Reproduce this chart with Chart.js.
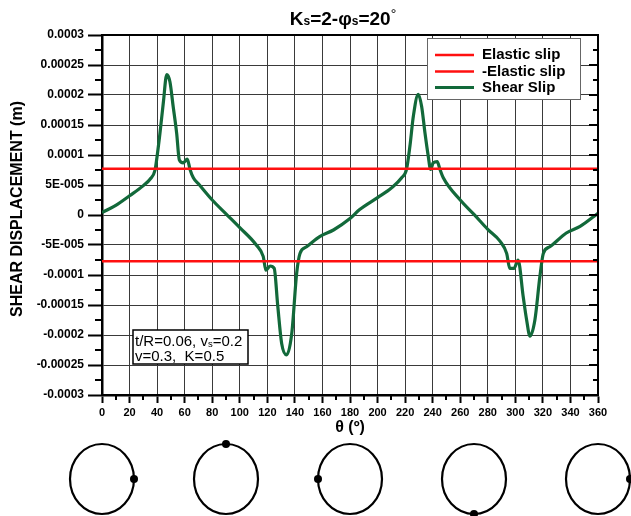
<!DOCTYPE html>
<html>
<head>
<meta charset="utf-8">
<script src="https://cdn.jsdelivr.net/npm/chart.js@4/dist/chart.umd.min.js"></script>
<style>
  html, body { margin: 0; padding: 0; background: #fff; }
  canvas { display: block; }
</style>
</head>
<body>
<canvas id="c" width="631" height="516"></canvas>
<script>
// Shear displacement along the liner circumference
const theta = [0, 10, 20, 30, 35, 38.5, 40, 42, 44.5, 47, 49.3, 51.7, 54.2, 56.1, 59, 61.9, 63.9, 66.3,
  70, 80, 90, 100, 112, 117, 119, 122, 125, 127.5, 130.4, 134, 137.7, 141.3, 143.7, 148.5, 158, 168,
  180, 187, 200, 210, 217.5, 221, 223.5, 226, 229.5, 232, 234.4, 236.8, 238.5, 240.4, 243.3, 245.3, 247.7,
  260, 270, 280, 289, 293.7, 296, 299, 302, 305.7, 308.2, 310.6, 314.2, 317.8, 320.3, 325, 337, 347, 360];
const shearSlip = [0.4e-5, 1.6e-5, 3.2e-5, 4.9e-5, 6.0e-5, 7.5e-5, 9.8e-5, 13.5e-5, 18.7e-5, 23.4e-5, 22.2e-5, 18.0e-5, 13.6e-5, 9.2e-5, 8.7e-5, 9.3e-5, 7.6e-5, 6.2e-5,
  5.2e-5, 2.5e-5, 0.2e-5, -2.1e-5, -5.0e-5, -6.9e-5, -9.2e-5, -8.5e-5, -8.9e-5, -15.0e-5, -21.4e-5, -23.3e-5, -19.8e-5, -9.7e-5, -6.4e-5, -5.3e-5, -3.6e-5, -2.5e-5,
  -0.6e-5, 0.9e-5, 2.9e-5, 4.5e-5, 6.2e-5, 7.6e-5, 11.5e-5, 16.5e-5, 20.1e-5, 18.1e-5, 13.7e-5, 9.8e-5, 7.6e-5, 8.7e-5, 8.9e-5, 7.6e-5, 6.2e-5,
  2.5e-5, 0.1e-5, -2.4e-5, -4.4e-5, -6.4e-5, -8.9e-5, -8.9e-5, -7.5e-5, -13.6e-5, -17.5e-5, -20.2e-5, -17.5e-5, -10.3e-5, -6.4e-5, -5.3e-5, -3.0e-5, -1.9e-5, 0.3e-5];
const elasticSlip = 7.7e-5;
const xTicks = { min: 0, max: 360, step: 20 };
const yTickLabels = ['-0.0003', '-0.00025', '-0.0002', '-0.00015', '-0.0001', '-5E-005', '0',
  '5E-005', '0.0001', '0.00015', '0.0002', '0.00025', '0.0003'];
const circleAngles = [0, 90, 180, 270, 360];
const legendLabels = ['Elastic slip', '-Elastic slip', 'Shear Slip'];

const FONT = '"Liberation Sans", Arial, sans-serif';
const RED = '#ff1010';
const GREEN = '#12693a';

function drawRich(ctx, parts, x, y, align) {
  // parts: [text, size, bold, dy]
  let total = 0;
  parts.forEach(p => {
    ctx.font = (p[2] ? 'bold ' : '') + p[1] + 'px ' + FONT;
    total += ctx.measureText(p[0]).width;
  });
  let cx = align === 'center' ? x - total / 2 : x;
  parts.forEach(p => {
    ctx.font = (p[2] ? 'bold ' : '') + p[1] + 'px ' + FONT;
    ctx.fillText(p[0], cx, y + (p[3] || 0));
    cx += ctx.measureText(p[0]).width;
  });
}

const decorations = {
  id: 'decorations',
  afterDraw(chart) {
    const ctx = chart.ctx;
    const xs = chart.scales.x, ys = chart.scales.y;
    const a = chart.chartArea;
    ctx.save();

    // frame (top and right)
    ctx.strokeStyle = '#000';
    ctx.lineWidth = 2;
    ctx.beginPath();
    ctx.moveTo(a.left, a.top); ctx.lineTo(a.right, a.top); ctx.lineTo(a.right, a.bottom);
    ctx.stroke();

    // minor ticks on y (left outward, right inward) and majors on the right
    for (let i = -12; i <= 12; i++) {
      const v = i * 0.000025;
      const py = Math.round(ys.getPixelForValue(v));
      const major = i % 2 === 0;
      ctx.lineWidth = 2;
      ctx.beginPath();
      if (!major) { ctx.moveTo(a.left - 7, py); ctx.lineTo(a.left, py); }
      ctx.moveTo(a.right, py); ctx.lineTo(a.right - (major ? 9 : 5), py);
      ctx.stroke();
    }
    // minor ticks on x
    for (let t = 10; t < 360; t += 20) {
      const px = Math.round(xs.getPixelForValue(t));
      ctx.beginPath(); ctx.moveTo(px, a.bottom); ctx.lineTo(px, a.bottom + 5); ctx.stroke();
    }

    // title
    ctx.fillStyle = '#000';
    ctx.textBaseline = 'alphabetic';
    drawRich(ctx, [['K', 19, true], ['s', 12, true], ['=2-φ', 19, true], ['s', 12, true], ['=20', 19, true], ['°', 14, false, -6]], 343, 25, 'center');

    // axis titles
    ctx.font = 'bold 16px ' + FONT;
    ctx.textAlign = 'center';
    ctx.textBaseline = 'middle';
    ctx.fillText('θ (º)', (a.left + a.right) / 2, 428);
    ctx.save();
    ctx.translate(18, 209);
    ctx.rotate(-Math.PI / 2);
    ctx.fillText('SHEAR DISPLACEMENT (m)', 0, 0);
    ctx.restore();

    // legend
    ctx.fillStyle = '#fff';
    ctx.fillRect(427, 38, 153, 61);
    ctx.strokeStyle = '#666';
    ctx.lineWidth = 1;
    ctx.strokeRect(427.5, 38.5, 153, 61);
    const ds = chart.data.datasets;
    [55, 71.5, 87.5].forEach((ly, i) => {
      ctx.strokeStyle = ds[i].borderColor;
      ctx.lineWidth = ds[i].borderWidth;
      ctx.beginPath(); ctx.moveTo(435, ly); ctx.lineTo(474, ly); ctx.stroke();
      ctx.fillStyle = '#000';
      ctx.font = 'bold 15px ' + FONT;
      ctx.textAlign = 'left';
      ctx.fillText(legendLabels[i], 482, ly);
    });

    // parameter box
    ctx.fillStyle = '#fff';
    ctx.fillRect(133, 330, 115, 34);
    ctx.strokeStyle = '#000';
    ctx.lineWidth = 1.5;
    ctx.strokeRect(133, 330, 115, 34);
    ctx.fillStyle = '#000';
    ctx.textAlign = 'left';
    ctx.textBaseline = 'alphabetic';
    drawRich(ctx, [['t/R=0.06, v', 15, false], ['s', 9.5, false, 1], ['=0.2', 15, false]], 135, 346, 'left');
    drawRich(ctx, [['v=0.3,  K=0.5', 15, false]], 135, 361, 'left');

    // position sketches below the axis
    ctx.strokeStyle = '#000';
    ctx.fillStyle = '#000';
    ctx.lineWidth = 2.2;
    const cy = 479, rx = 32, ry = 35;
    circleAngles.forEach(t => {
      const cx = xs.getPixelForValue(t);
      ctx.beginPath();
      ctx.ellipse(cx, cy, rx, ry, 0, 0, Math.PI * 2);
      ctx.stroke();
      const r = t * Math.PI / 180;
      ctx.beginPath();
      ctx.arc(cx + rx * Math.cos(r), cy - ry * Math.sin(r), 4, 0, Math.PI * 2);
      ctx.fill();
    });
    ctx.restore();
  }
};

new Chart(document.getElementById('c'), {
  type: 'line',
  data: {
    datasets: [
      { label: legendLabels[0], data: [{ x: 0, y: elasticSlip }, { x: 360, y: elasticSlip }], borderColor: RED, borderWidth: 2.5, pointRadius: 0 },
      { label: legendLabels[1], data: [{ x: 0, y: -elasticSlip }, { x: 360, y: -elasticSlip }], borderColor: RED, borderWidth: 2.5, pointRadius: 0 },
      { label: legendLabels[2], data: theta.map((t, i) => ({ x: t, y: shearSlip[i] })), borderColor: GREEN, borderWidth: 3.2, pointRadius: 0, cubicInterpolationMode: 'monotone' }
    ]
  },
  options: {
    responsive: false,
    animation: false,
    layout: { padding: { top: 35, right: 33, left: 0, bottom: 0 } },
    plugins: { legend: { display: false }, title: { display: false }, tooltip: { enabled: false } },
    scales: {
      x: {
        type: 'linear', min: xTicks.min, max: xTicks.max,
        afterFit: s => { s.height = 121; },
        ticks: { stepSize: xTicks.step, color: '#000', padding: 3, maxRotation: 0, autoSkip: false, font: { family: FONT, size: 11, weight: 'bold' } },
        grid: { color: '#3a3a3a', lineWidth: 1, tickColor: '#000', tickLength: 8, tickWidth: 2 },
        border: { color: '#000', width: 2.5 }
      },
      y: {
        min: -0.0003, max: 0.0003,
        afterFit: s => { s.width = 102; },
        ticks: { stepSize: 0.00005, color: '#000', padding: 4, font: { family: FONT, size: 12, weight: 'bold' },
          callback: (v, i) => yTickLabels[i] },
        grid: { color: '#3a3a3a', lineWidth: 1, tickColor: '#000', tickLength: 14, tickWidth: 2 },
        border: { color: '#000', width: 2.5 }
      }
    }
  },
  plugins: [decorations]
});
</script>
</body>
</html>
